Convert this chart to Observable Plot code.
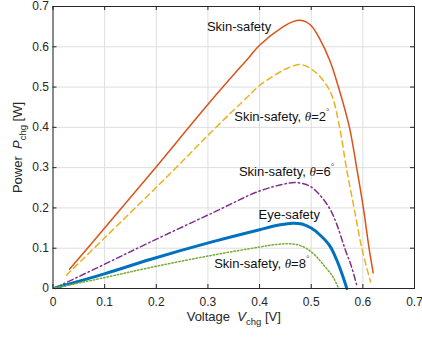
<!DOCTYPE html>
<html><head><meta charset="utf-8">
<script src="https://cdn.jsdelivr.net/npm/d3@7"></script>
<script src="https://cdn.jsdelivr.net/npm/@observablehq/plot@0.6"></script>
<style>body{margin:0;background:#fff}</style>
</head><body><div id="chart"></div>
<script>
// ---- data ----
const xTicks = [0, 0.1, 0.2, 0.3, 0.4, 0.5, 0.6, 0.7];
const xTickLabels = ["0", "0.1", "0.2", "0.3", "0.4", "0.5", "0.6", "0.7"];
const yTicks = [0, 0.1, 0.2, 0.3, 0.4, 0.5, 0.6, 0.7];
const yTickLabels = ["0", "0.1", "0.2", "0.3", "0.4", "0.5", "0.6", "0.7"];

const skinV = [0.032, 0.100, 0.194, 0.306, 0.381, 0.400, 0.446, 0.466, 0.478, 0.490, 0.501, 0.516, 0.536, 0.553, 0.574, 0.588, 0.601, 0.612, 0.620];
const skinP = [0.048, 0.150, 0.293, 0.466, 0.576, 0.604, 0.650, 0.663, 0.666, 0.662, 0.651, 0.621, 0.566, 0.499, 0.400, 0.300, 0.200, 0.100, 0.039];

const skin2V = [0.026, 0.101, 0.233, 0.306, 0.381, 0.400, 0.446, 0.466, 0.478, 0.492, 0.510, 0.529, 0.541, 0.555, 0.568, 0.583, 0.598, 0.615];
const skin2P = [0.033, 0.127, 0.293, 0.388, 0.481, 0.504, 0.542, 0.553, 0.556, 0.551, 0.535, 0.506, 0.476, 0.400, 0.300, 0.200, 0.100, 0.016];

const skin6V = [0.005, 0.101, 0.188, 0.306, 0.400, 0.450, 0.468, 0.485, 0.500, 0.518, 0.536, 0.549, 0.565, 0.578, 0.589];
const skin6P = [0.002, 0.061, 0.115, 0.186, 0.242, 0.260, 0.263, 0.260, 0.252, 0.230, 0.198, 0.161, 0.100, 0.054, 0.004];

const eyeV = [0.005, 0.101, 0.188, 0.306, 0.400, 0.440, 0.464, 0.482, 0.500, 0.516, 0.536, 0.549, 0.558, 0.569];
const eyeP = [0.002, 0.037, 0.072, 0.115, 0.146, 0.158, 0.162, 0.160, 0.150, 0.134, 0.106, 0.072, 0.042, 0.000];

const skin8V = [0.005, 0.100, 0.188, 0.306, 0.400, 0.430, 0.452, 0.472, 0.490, 0.507, 0.523, 0.542, 0.552];
const skin8P = [0.002, 0.027, 0.052, 0.082, 0.103, 0.109, 0.111, 0.109, 0.100, 0.083, 0.060, 0.029, 0.003];

const labelTexts = ["Skin-safety", "Skin-safety, θ=2°", "Skin-safety, θ=6°", "Eye-safety", "Skin-safety, θ=8°"];
const labelV = [0.298, 0.351, 0.360, 0.398, 0.312];
const labelP = [0.650, 0.427, 0.289, 0.184, 0.062];

const xLabel = "Voltage  V_chg [V]";
const yLabel = "Power  P_chg [W]";

// ---- layout / style ----
const W = 422, H = 337, mL = 52.5, mR = 8, mT = 6, mB = 49;
const innerH = H - mT - mB, innerW = W - mL - mR;
const axisColor = "#262626";
const tickLen = 4;

const series = [
  {V: skinV, P: skinP, color: "#D95319", width: 1.5, dash: null},
  {V: skin2V, P: skin2P, color: "#EDB120", width: 1.5, dash: "6,4"},
  {V: skin6V, P: skin6P, color: "#7E2F8E", width: 1.5, dash: "6,3,1.5,3"},
  {V: eyeV, P: eyeP, color: "#0072BD", width: 3, dash: null},
  {V: skin8V, P: skin8P, color: "#77AC30", width: 1.5, dash: "1.5,2"}
];
const labels = labelTexts.map((t, i) => ({t, v: labelV[i], p: labelP[i]}));

const svg = Plot.plot({
  width: W, height: H,
  marginLeft: mL, marginRight: mR, marginTop: mT, marginBottom: mB,
  style: {fontFamily: "'Liberation Sans', Arial, Helvetica, sans-serif", fontSize: "12px", background: "white", color: axisColor},
  x: {domain: [0, 0.7]},
  y: {domain: [0, 0.7]},
  marks: [
    Plot.gridX(xTicks, {stroke: "#dedede", strokeOpacity: 1}),
    Plot.gridY(yTicks, {stroke: "#dedede", strokeOpacity: 1}),
    ...series.map(s => Plot.line(s.V.map((v, i) => ({v, p: s.P[i]})), {
      x: "v", y: "p", stroke: s.color, strokeWidth: s.width,
      strokeDasharray: s.dash, curve: "catmull-rom"
    })),
    Plot.text(labels, {x: "v", y: "p", text: "t", textAnchor: "start", fill: "#111", fontSize: 13, fontWeight: "normal"}),
    Plot.frame({stroke: axisColor, strokeWidth: 1}),
    Plot.tickX(xTicks, {x: d => d, stroke: axisColor, insetTop: innerH - tickLen}),
    Plot.tickX(xTicks, {x: d => d, stroke: axisColor, insetBottom: innerH - tickLen}),
    Plot.tickY(yTicks, {y: d => d, stroke: axisColor, insetRight: innerW - tickLen}),
    Plot.tickY(yTicks, {y: d => d, stroke: axisColor, insetLeft: innerW - tickLen}),
    Plot.axisX(xTicks, {anchor: "bottom", tickSize: 0, tickPadding: 9, label: null, fontSize: 12, fill: axisColor,
      tickFormat: d => xTickLabels[xTicks.indexOf(d)]}),
    Plot.axisY(yTicks, {anchor: "left", tickSize: 0, tickPadding: 4, label: null, fontSize: 12, fill: axisColor,
      tickFormat: d => yTickLabels[yTicks.indexOf(d)]}),
    Plot.text([xLabel], {frameAnchor: "bottom", textAnchor: "middle", lineAnchor: "middle", dy: 28.5,
      text: d => d, fontSize: 13, fill: axisColor}),
    Plot.text([yLabel], {frameAnchor: "left", textAnchor: "middle", lineAnchor: "middle", dx: -35.5, rotate: -90,
      text: d => d, fontSize: 13, fill: axisColor})
  ]
});

// rich text: italic symbols, subscripts, degree signs
const NS = "http://www.w3.org/2000/svg";
function rich(el) {
  const s = el.textContent;
  if (!/[θ°]|[A-Za-z]_/.test(s)) return;
  const parts = [];
  const re = /([A-Za-z])_([a-z]+)|θ|°/g;
  let last = 0, m;
  while ((m = re.exec(s))) {
    if (m.index > last) parts.push({t: s.slice(last, m.index), off: 0});
    if (m[1]) { parts.push({t: m[1], off: 0, italic: true}); parts.push({t: m[2], off: 4, size: 9.5}); }
    else if (m[0] === "θ") parts.push({t: "θ", off: 0, italic: true, serif: true});
    else parts.push({t: "°", off: -6, size: 9, fill: "#555"});
    last = re.lastIndex;
  }
  if (last < s.length) parts.push({t: s.slice(last), off: 0});
  el.textContent = "";
  el.style.whiteSpace = "pre";
  let cur = 0;
  for (const p of parts) {
    const ts = document.createElementNS(NS, "tspan");
    ts.textContent = p.t;
    if (p.off !== cur) { ts.setAttribute("dy", p.off - cur); cur = p.off; }
    if (p.italic) ts.setAttribute("font-style", "italic");
    if (p.serif) ts.setAttribute("font-family", "'Liberation Serif', 'DejaVu Serif', serif");
    if (p.size) ts.setAttribute("font-size", p.size);
    if (p.fill) ts.setAttribute("fill", p.fill);
    el.appendChild(ts);
  }
}
svg.querySelectorAll("text").forEach(rich);
document.getElementById("chart").appendChild(svg);
</script>
</body></html>
